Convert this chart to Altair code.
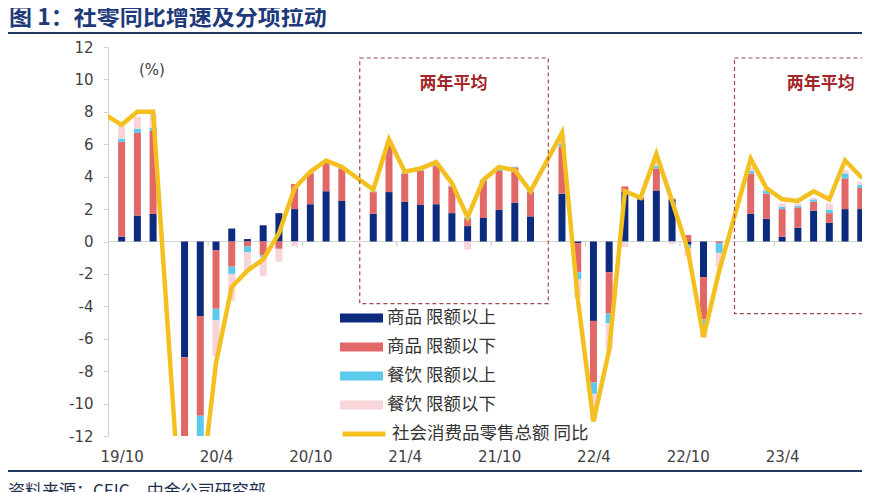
import json
import altair as alt
import pandas as pd

# ---------------- data ----------------
# index 0 = 2019/10 ... index 47 = 2023/9 (January months are not published -> None)
periods = []
yy, mm = 2019, 10
for _ in range(48):
    periods.append(f"{yy % 100}/{mm}")
    mm += 1
    if mm > 12:
        mm, yy = 1, yy + 1

series_names = ["商品 限额以上", "商品 限额以下", "餐饮 限额以上", "餐饮 限额以下"]
line_name = "社会消费品零售总额 同比"

goods_above = [0.3, 1.6, 1.7, None,
               -7.15, -4.6, -0.55, 0.8, 0.15, 1.0, 1.75, 2.0, 2.3, 3.1, 2.5, None,
               1.7, 3.05, 2.45, 2.25, 2.3, 1.75, 0.95, 1.45, 1.95, 2.4, 1.55, None,
               2.95, -0.1, -4.9, -1.9, 3.05, 2.6, 3.15, 2.6, -0.2, -2.2, 0.0, None,
               1.7, 1.4, 0.3, 0.85, 1.9, 1.15, 2.0, 2.0]
goods_below = [5.85, 5.1, 5.15, None,
               -10.5, -6.15, -3.6, -1.55, -0.3, -0.85, -0.45, 1.55, 1.9, 1.75, 2.0, None,
               1.35, 2.85, 1.75, 2.1, 2.35, 1.65, 0.45, 2.3, 2.4, 2.15, 1.5, None,
               2.9, -1.8, -3.8, -2.55, 0.35, 0.1, 1.35, 0.05, 0.4, -2.6, -0.1, None,
               2.5, 1.55, 1.7, 1.25, 0.55, 0.6, 1.9, 1.3]
food_above = [0.2, 0.25, 0.15, None,
              -1.2, -1.25, -0.7, -0.45, -0.35, -0.1, 0.0, 0.0, 0.05, 0.05, 0.05, None,
              0.05, 0.1, 0.05, 0.05, 0.1, 0.05, 0.1, 0.05, 0.1, 0.05, 0.05, None,
              0.2, -0.45, -0.7, -0.6, -0.05, 0.05, 0.15, 0.0, -0.2, -0.6, -0.6, None,
              0.15, 0.2, 0.15, 0.1, 0.15, 0.2, 0.3, 0.2]
food_below = [0.8, 0.75, 0.9, None,
              -1.6, -3.5, -2.2, -1.65, -1.15, -1.2, -0.8, -0.3, 0.05, 0.05, 0.05, None,
              0.05, 0.25, 0.05, 0.1, 0.15, 0.1, -0.5, 0.05, 0.15, 0.05, 0.05, None,
              0.55, -1.1, -1.6, -1.6, -0.3, -0.05, 0.5, -0.15, -0.5, -0.5, -0.9, None,
              0.2, 0.1, 0.2, 0.15, 0.1, 0.4, 0.2, 0.2]

# total retail sales yoy, index -1 (2019/9) ... 48 (2023/10)
line_start = -1
total_yoy = [7.8,
             7.2, 8.0, 8.0, None,
             -20.5, -15.8, -7.5, -2.8, -1.8, -1.1, 0.5, 3.3, 4.3, 5.0, 4.6, None,
             3.2, 6.3, 4.3, 4.5, 4.9, 3.6, 1.5, 3.8, 4.6, 4.4, 3.1, None,
             6.7, -3.5, -11.1, -6.7, 3.1, 2.7, 5.4, 2.5, -0.5, -5.9, -1.8, None,
             5.1, 3.3, 2.6, 2.5, 3.1, 2.6, 5.0, 4.0, 3.5]

x_tick_idx = [0, 6, 12, 18, 24, 30, 36, 42]
x_tick_labels = ["19/10", "20/4", "20/10", "21/4", "21/10", "22/4", "22/10", "23/4"]
y_ticks = list(range(-12, 13, 2))

# "两年平均" boxes (month index range, value range)
box_x0 = [15.14, 38.97]
box_x1 = [27.13, 48.5]
box_y0 = [-3.83, -4.45]
box_y1 = [11.32, 11.32]
box_label_x = [21.1, 44.45]
box_label_y = [9.7, 9.7]

bar_colors = ["#0C2B7E", "#E26767", "#5DC9EC", "#F7D5D8"]
line_color = "#F4C020"
navy_text = "#1F3A7A"
FONT_CJK = "Noto Sans CJK SC"
FONT_NUM = "DejaVu Sans"

# ---------------- tables ----------------
rows = []
for k, (name, vals) in enumerate(zip(series_names, [goods_above, goods_below, food_above, food_below])):
    for i, v in enumerate(vals):
        if v is None:
            continue
        rows.append({"i": i, "period": periods[i], "series": name, "ord": k, "value": v})
bars_df = pd.DataFrame(rows)

lrows = []
for j, v in enumerate(total_yoy):
    if v is None:
        continue
    lrows.append({"i": line_start + j, "series": line_name, "value": v})
line_df = pd.DataFrame(lrows)

boxes_df = pd.DataFrame({"x0": box_x0, "x1": box_x1, "y0": box_y0, "y1": box_y1})
box_lab_df = pd.DataFrame({"x": box_label_x, "y": box_label_y, "t": ["两年平均", "两年平均"]})
minor_df = pd.DataFrame({"x": [5.5 + 6 * k for k in range(8)], "y0": [0.0] * 8, "y1": [-0.3] * 8})

W, H = 754, 389
xscale = alt.Scale(domain=[-0.55, 46.76], nice=False, zero=False)
yscale = alt.Scale(domain=[-12, 12], nice=False, zero=False)

xaxis = alt.Axis(values=x_tick_idx,
                 labelExpr=f"{json.dumps(x_tick_labels, ensure_ascii=False)}[round(datum.value/6)]",
                 domain=False, ticks=False, grid=False, labelFlush=False, labelOverlap=False,
                 labelFont=FONT_NUM, labelFontSize=15, labelColor="#3F3F3F", labelPadding=13,
                 title=None)
yaxis = alt.Axis(values=y_ticks, domain=True, domainColor="#D0D0D0", ticks=True, tickColor="#D0D0D0",
                 tickSize=5, grid=False, labelOverlap=False, labelFlush=False,
                 labelExpr="datum.value < 0 ? '-' + abs(datum.value) : '' + datum.value",
                 labelFont=FONT_NUM, labelFontSize=15, labelColor="#3F3F3F",
                 labelPadding=10, title=None)

# ---------------- layers ----------------
zero_line = alt.Chart(pd.DataFrame({"v": [0]})).mark_rule(color="#D4D4D4", strokeWidth=1).encode(
    y=alt.Y("v:Q", scale=yscale, axis=yaxis))

minor_ticks = alt.Chart(minor_df).mark_rule(color="#C8C8C8", strokeWidth=1, clip=True).encode(
    x=alt.X("x:Q", scale=xscale, axis=xaxis),
    y=alt.Y("y0:Q", scale=yscale, axis=yaxis), y2="y1:Q")

bars = alt.Chart(bars_df).mark_bar(size=7, clip=True).encode(
    x=alt.X("i:Q", scale=xscale, axis=xaxis),
    y=alt.Y("value:Q", stack="zero", scale=yscale, axis=yaxis),
    fill=alt.Fill("series:N", scale=alt.Scale(domain=series_names, range=bar_colors),
                  legend=alt.Legend(title=None, orient="none", legendX=232, legendY=262,
                                    direction="vertical", symbolType="M-1,-0.21H1V0.21H-1Z",
                                    symbolSize=1849, symbolStrokeWidth=0, clipHeight=18,
                                    rowPadding=11, labelFont=FONT_CJK, labelFontSize=17.5,
                                    labelColor="#333333", labelOffset=4, labelLimit=400, padding=0)),
    order=alt.Order("ord:Q", sort="ascending"),
)

line = alt.Chart(line_df).mark_line(strokeWidth=4.5, clip=True).encode(
    x=alt.X("i:Q", scale=xscale, axis=xaxis),
    y=alt.Y("value:Q", scale=yscale, axis=yaxis),
    stroke=alt.Stroke("series:N", scale=alt.Scale(domain=[line_name], range=[line_color]),
                      legend=alt.Legend(title=None, orient="none", legendX=232, legendY=378,
                                        symbolType="stroke", symbolSize=1849, symbolStrokeWidth=5,
                                        clipHeight=18, labelFont=FONT_CJK, labelFontSize=17.5,
                                        labelColor="#333333", labelOffset=4, labelLimit=400, padding=0)),
)

boxes = alt.Chart(boxes_df).mark_rect(fillOpacity=0, stroke="#A04A4A", strokeWidth=1.2,
                                      strokeDash=[4, 3], clip=True).encode(
    x=alt.X("x0:Q", scale=xscale, axis=xaxis), x2="x1:Q",
    y=alt.Y("y0:Q", scale=yscale, axis=yaxis), y2="y1:Q")

box_labels = alt.Chart(box_lab_df).mark_text(font=FONT_CJK, fontSize=17, fontWeight="bold",
                                             color="#A3262A").encode(
    x=alt.X("x:Q", scale=xscale, axis=xaxis), y=alt.Y("y:Q", scale=yscale, axis=yaxis), text="t:N")

pct = alt.Chart(pd.DataFrame({"t": ["(%)"]})).mark_text(font=FONT_NUM, fontSize=15, color="#3F3F3F").encode(
    x=alt.value(44), y=alt.value(22.5), text="t:N")

title = alt.Chart(pd.DataFrame({"t": ["图 1：社零同比增速及分项拉动"]})).mark_text(
    font=FONT_CJK, fontSize=23, fontWeight="bold", color=navy_text, align="left", baseline="middle").encode(
    x=alt.value(-99), y=alt.value(-29), text="t:N")

top_rule = alt.Chart(pd.DataFrame({"a": [0]})).mark_rule(color="#1F3864", strokeWidth=2).encode(
    x=alt.value(-100), x2=alt.value(W), y=alt.value(-14))
bottom_rule = alt.Chart(pd.DataFrame({"a": [0]})).mark_rule(color="#1F3864", strokeWidth=2).encode(
    x=alt.value(-100), x2=alt.value(W), y=alt.value(424))

source = alt.Chart(pd.DataFrame({"t": ["资料来源：CEIC，中金公司研究部"]})).mark_text(
    font=FONT_CJK, fontSize=17, color="#1F2F4F", align="left", baseline="top").encode(
    x=alt.value(-100), y=alt.value(437), text="t:N")

chart = alt.layer(zero_line, minor_ticks, bars, line, boxes, box_labels, pct,
                  title, top_rule, bottom_rule, source).properties(
    width=W, height=H,
    autosize=alt.AutoSizeParams(type="none"),
    padding={"left": 100, "top": 39, "right": 0, "bottom": 56},
    background="white",
).configure_view(stroke="transparent")

chart.save("out.html", embed_options={"renderer": "svg", "actions": False})
